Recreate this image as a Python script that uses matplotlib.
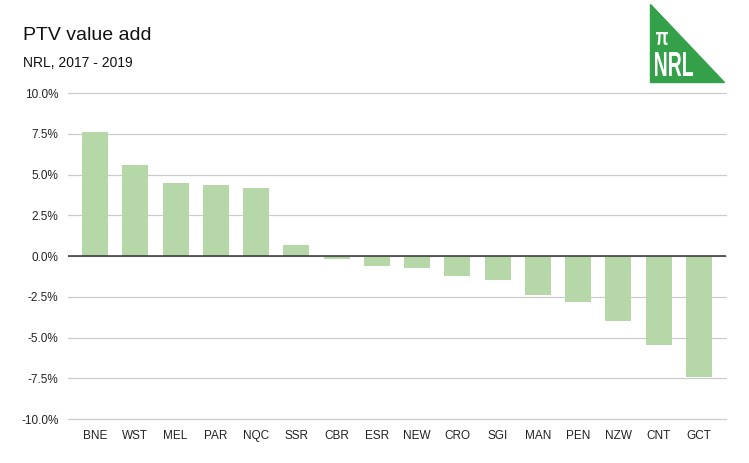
import numpy as np
import matplotlib.pyplot as plt
from matplotlib.patches import Polygon, PathPatch
from matplotlib.textpath import TextPath
from matplotlib.font_manager import FontProperties
from matplotlib.transforms import Affine2D
from matplotlib.ticker import FuncFormatter

plt.rcParams['font.family'] = ['Liberation Sans', 'DejaVu Sans']

teams = ['BNE', 'WST', 'MEL', 'PAR', 'NQC', 'SSR', 'CBR', 'ESR',
         'NEW', 'CRO', 'SGI', 'MAN', 'PEN', 'NZW', 'CNT', 'GCT']
value_add = [7.6, 5.58, 4.48, 4.36, 4.17, 0.67, -0.17, -0.6,
             -0.72, -1.21, -1.45, -2.37, -2.8, -3.97, -5.44, -7.4]

W, H = 749, 463
fig = plt.figure(figsize=(W / 100, H / 100), dpi=100)
ax = fig.add_axes([0.091, 0.095, 0.878, 0.704])

x = np.arange(len(teams))
ax.bar(x, value_add, width=0.645, color='#b6d7a8', zorder=2)
ax.axhline(0, color='#333333', lw=1.1, zorder=3)

ax.set_ylim(-10, 10)
ax.set_xlim(-0.67, 15.67)
ax.set_yticks(np.arange(-10, 10.1, 2.5))
ax.yaxis.set_major_formatter(FuncFormatter(lambda v, p: f'{v:.1f}%'))
ax.grid(axis='y', color='#cccccc', lw=0.9, zorder=0)
for gl in ax.get_ygridlines():
    gl.set_clip_on(False)
ax.set_xticks(x)
ax.set_xticklabels(teams)
ax.tick_params(length=0, labelsize=8.5, colors='#222222')
ax.tick_params(axis='y', pad=7)
ax.tick_params(axis='x', pad=8)
for s in ax.spines.values():
    s.set_visible(False)

fig.text(23 / W, 1 - 35 / H, 'PTV value add', fontsize=14, va='center', color='#111111')
fig.text(23 / W, 1 - 63 / H, 'NRL, 2017 - 2019', fontsize=10, va='center', color='#111111')

# logo: green triangle with squeezed white lettering
tri = Polygon([(650 / W, 1 - 4 / H), (650 / W, 1 - 82 / H), (724 / W, 1 - 82 / H)],
              closed=True, transform=fig.transFigure, color='#34a04a')
fig.patches.append(tri)

bold = FontProperties(family='Liberation Sans', weight='bold')


def logo_text(s, x0, x1, y0, y1):
    tp = TextPath((0, 0), s, size=10, prop=bold)
    ext = tp.get_extents()
    sx = (x1 - x0) / ext.width
    sy = (y1 - y0) / ext.height
    tr = (Affine2D().translate(-ext.x0, -ext.y0).scale(sx, sy)
          .translate(x0, H - y1).scale(1 / W, 1 / H) + fig.transFigure)
    fig.patches.append(PathPatch(tp, transform=tr, color='white', lw=0))


logo_text('π', 656, 668, 32, 45)
logo_text('NRL', 655, 693, 52, 76)

fig.savefig('out.png', dpi=100)
